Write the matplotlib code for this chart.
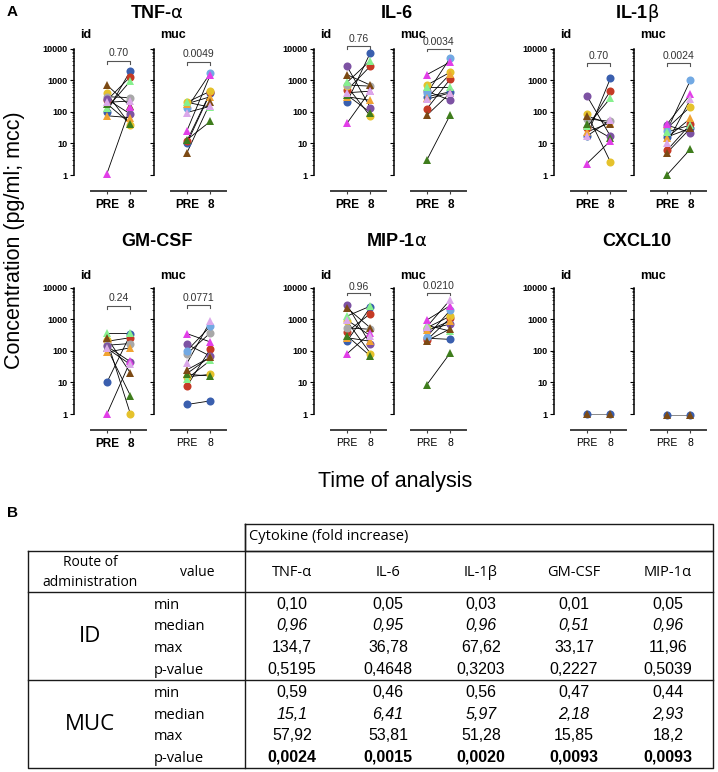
import numpy as np
import matplotlib
matplotlib.use("Agg")
import matplotlib.pyplot as plt
from matplotlib.ticker import NullFormatter, FixedLocator, FixedFormatter

nan = np.nan

# ---------------- data ----------------
subjects = ["blue", "red", "gold", "gray", "purple", "ltblue",
            "orange", "ltgreen", "dkgreen", "brown", "magenta", "lavender"]

tnf_id_pre = [100, 230, 380, 300, 250, nan, 75, 130, 180, 700, 1.1, 200]
tnf_id_post = [2000, 1300, 38, 280, 85, nan, 65, 950, 42, 150, 140, 220]
tnf_muc_pre = [10, 12, 200, nan, nan, 130, 180, 200, 13, 5, 25, 95]
tnf_muc_post = [400, 420, 450, nan, nan, 1700, 300, 140, 50, 200, 1500, 150]

il6_id_pre = [200, 480, 650, 700, 2800, nan, 300, 850, 340, 1500, 43, 400]
il6_id_post = [7500, 2800, 72, 650, 135, nan, 230, 4200, 95, 700, 470, 450]
il6_muc_pre = [300, 125, 700, nan, 450, 380, 270, 600, 3, 78, 1500, 250]
il6_muc_post = [430, 1100, 1800, nan, 230, 5200, 1600, 600, 82, 400, 3800, 400]

il1b_id_pre = [17, 30, 88, 60, 320, nan, 23, 35, 40, 75, 2.3, 17]
il1b_id_post = [1150, 460, 2.6, 50, 17, nan, 45, 270, 15, 40, 12, 55]
il1b_muc_pre = [16, 6, 30, nan, 38, 25, 15, 23, 1, 5, 40, 10]
il1b_muc_post = [30, 40, 145, nan, 22, 1000, 62, 38, 6.6, 30, 360, 250]

gmcsf_id_pre = [10, 200, 220, 150, 140, nan, 90, 370, 125, 260, 1, 120]
gmcsf_id_post = [330, 260, 1, 170, 45, nan, 125, 370, 3.8, 20, 47, 37]
gmcsf_muc_pre = [2, 7.6, 15, 80, 160, 100, 19, 13, 18, 25, 350, 40]
gmcsf_muc_post = [2.6, 115, 18, 370, 68, 600, 65, 50, 16, 63, 190, 870]

mip_id_pre = [200, 400, 870, 530, 2900, nan, 260, 1250, 300, 2300, 80, 950]
mip_id_post = [2400, 1500, 82, 480, 160, nan, 200, 2600, 68, 530, 370, 300]
mip_muc_pre = [250, 220, 540, nan, 470, 280, 440, 640, 8.5, 210, 950, 580]
mip_muc_post = [230, 1100, 1250, nan, 700, 1950, 870, 420, 87, 500, 2700, 4200]

cx_id_pre = [1.0, nan, nan, nan, nan, nan, nan, nan, nan, 1.0, nan, nan]
cx_id_post = [1.0, nan, nan, nan, nan, nan, nan, nan, nan, 1.0, nan, nan]
cx_muc_pre = [0.95, nan, nan, nan, nan, nan, nan, nan, nan, 0.95, nan, nan]
cx_muc_post = [0.95, nan, nan, nan, nan, nan, nan, nan, nan, 0.95, nan, nan]

cytokines = ["TNF-$\\mathrm{\\alpha}$", "IL-6", "IL-1$\\mathrm{\\beta}$", "GM-CSF",
             "MIP-1$\\mathrm{\\alpha}$", "CXCL10"]
pvals_id = ["0.70", "0.76", "0.70", "0.24", "0.96", None]
pvals_muc = ["0.0049", "0.0034", "0.0024", "0.0771", "0.0210", None]
xcats = ["PRE", "8"]
ytick_vals = [1, 10, 100, 1000, 10000]
ytick_labels = ["1", "10", "100", "1000", "10000"]

# table data
table_cols = ["TNF-α", "IL-6", "IL-1β", "GM-CSF", "MIP-1α"]
row_names = ["min", "median", "max", "p-value"]
id_min = ["0,10", "0,05", "0,03", "0,01", "0,05"]
id_median = ["0,96", "0,95", "0,96", "0,51", "0,96"]
id_max = ["134,7", "36,78", "67,62", "33,17", "11,96"]
id_p = ["0,5195", "0,4648", "0,3203", "0,2227", "0,5039"]
muc_min = ["0,59", "0,46", "0,56", "0,47", "0,44"]
muc_median = ["15,1", "6,41", "5,97", "2,18", "2,93"]
muc_max = ["57,92", "53,81", "51,28", "15,85", "18,2"]
muc_p = ["0,0024", "0,0015", "0,0020", "0,0093", "0,0093"]

# ---------------- styles ----------------
colors = {"blue": "#3a5fae", "red": "#c53a25", "gold": "#e5c22c", "gray": "#a8a8a8",
          "purple": "#7d52a3", "ltblue": "#72a9e3", "orange": "#f0a332",
          "ltgreen": "#86f08e", "dkgreen": "#3f7d1d", "brown": "#7c4a14",
          "magenta": "#e23fe8", "lavender": "#dba8ea"}
markers = {"blue": "o", "red": "o", "gold": "o", "gray": "o", "purple": "o",
           "ltblue": "o", "orange": "^", "ltgreen": "^", "dkgreen": "^",
           "brown": "^", "magenta": "^", "lavender": "^"}

panels = [
    (tnf_id_pre, tnf_id_post, tnf_muc_pre, tnf_muc_post),
    (il6_id_pre, il6_id_post, il6_muc_pre, il6_muc_post),
    (il1b_id_pre, il1b_id_post, il1b_muc_pre, il1b_muc_post),
    (gmcsf_id_pre, gmcsf_id_post, gmcsf_muc_pre, gmcsf_muc_post),
    (mip_id_pre, mip_id_post, mip_muc_pre, mip_muc_post),
    (cx_id_pre, cx_id_post, cx_muc_pre, cx_muc_post),
]
# bracket (log10) positions: (id bracket, id text, muc bracket, muc text)
brackets = [(3.6, 3.86, 3.58, 3.84), (4.08, 4.3, 4.0, 4.22), (3.53, 3.76, 3.53, 3.78),
            (3.42, 3.66, 3.44, 3.68), (3.84, 4.02, 3.84, 4.04), None]
bold_x = [[True, True], [True, True], [True, True], [True, False], [False, False], [False, False]]

W, H = 718, 772
fig = plt.figure(figsize=(W / 100, H / 100), dpi=100)
FONT = "Liberation Sans"


def fx(px):
    return px / W


def fy(py):
    return 1 - py / H


unit = 23.5
dec = 31.6
low = 16.3 / dec
high = 4.45
row_one = [175, 414]
title_y = [13, 242]
lab_y = [35, 276]
minor_vals = [m * 10 ** e for e in range(4) for m in range(2, 10)]

for idx, (idpre, idpost, mpre, mpost) in enumerate(panels):
    r, g = divmod(idx, 3)
    for k in range(2):
        pre = idpre if k == 0 else mpre
        post = idpost if k == 0 else mpost
        spine_px = 74 + 240 * g + 80 * k
        xl = (-1.4, 1.85)
        wpx = (xl[1] - xl[0]) * unit
        bottom_px = row_one[r] + 16.3
        hpx = (high + low) * dec
        ax = fig.add_axes([fx(spine_px), fy(bottom_px), wpx / W, hpx / H])
        ax.patch.set_alpha(0)
        ax.set_yscale("log")
        ax.set_xlim(*xl)
        ax.set_ylim(10 ** (-low), 10 ** high)
        for s in ["top", "right"]:
            ax.spines[s].set_visible(False)
        ax.spines["left"].set_bounds(1, 1e4)
        ax.spines["left"].set_linewidth(1.1)
        ax.spines["bottom"].set_bounds(-0.68, 1.68)
        ax.spines["bottom"].set_linewidth(1.4)
        ax.spines["bottom"].set_color("#404040")
        ax.yaxis.set_major_locator(FixedLocator(ytick_vals))
        ax.yaxis.set_minor_locator(FixedLocator(minor_vals))
        ax.yaxis.set_minor_formatter(NullFormatter())
        ax.yaxis.set_major_formatter(FixedFormatter(ytick_labels))
        ax.tick_params(axis="y", which="major", length=3, width=0.8, pad=1.5,
                       labelsize=6.5)
        ax.tick_params(axis="y", which="minor", length=1.5, width=0.5)
        if k == 1:
            ax.tick_params(axis="y", which="both", labelleft=False)
        else:
            for t in ax.get_yticklabels():
                t.set_fontweight("bold")
                t.set_family(FONT)
        ax.set_xticks([0, 1])
        bx = bold_x[idx][k]
        ax.set_xticklabels(xcats, fontsize=8.5 if bx else 7.5,
                           fontweight="bold" if bx else "normal", family=FONT)
        ax.tick_params(axis="x", length=2.5, width=0.8, pad=3, color="#404040")
        lc = "#888888" if idx == 5 else "black"
        for i, s in enumerate(subjects):
            a, b = pre[i], post[i]
            if np.isnan(a) or np.isnan(b):
                continue
            ax.plot([0, 1], [a, b], color=lc, lw=0.6, zorder=2)
        for i, s in enumerate(subjects):
            a, b = pre[i], post[i]
            if np.isnan(a) or np.isnan(b):
                continue
            ms = 5.8 if markers[s] == "o" else 6.0
            ax.plot([0, 1], [a, b], linestyle="none", marker=markers[s], ms=ms,
                    color=colors[s], markeredgewidth=0, zorder=3, clip_on=False)
        if brackets[idx] is not None:
            yb, yt = brackets[idx][2 * k], brackets[idx][2 * k + 1]
            ybv = 10 ** yb
            ax.plot([0, 0, 1, 1], [ybv / 1.22, ybv, ybv, ybv / 1.22], color="#555555",
                    lw=0.8, clip_on=False, zorder=2)
            pv = pvals_id[idx] if k == 0 else pvals_muc[idx]
            ax.text(0.5, 10 ** yt, pv, ha="center", va="center", fontsize=7.5,
                    color="#333333", family=FONT)
        # id / muc labels
        lx = 80 + 240 * g if k == 0 else 160 + 240 * g
        fig.text(fx(lx), fy(lab_y[r]), "id" if k == 0 else "muc", ha="left", va="center",
                 fontsize=9, fontweight="bold", family=FONT)
    fig.text(fx(157 + 240 * g), fy(title_y[r]), cytokines[idx], ha="center", va="center",
             fontsize=13, fontweight="bold", family=FONT)

fig.text(fx(12), fy(12), "A", ha="center", va="center", fontsize=11, fontweight="bold", family=FONT)
fig.text(fx(13), fy(513), "B", ha="center", va="center", fontsize=11, fontweight="bold", family=FONT)
fig.text(fx(15), fy(240), "Concentration (pg/ml; mcc)", rotation=90, ha="center", va="center",
         fontsize=15.5, family=FONT)
fig.text(fx(395), fy(482), "Time of analysis", ha="center", va="center", fontsize=15.5, family=FONT)

# ---------------- table ----------------
at = fig.add_axes([0, 0, 1, 1])
at.set_xlim(0, W)
at.set_ylim(H, 0)
at.axis("off")
lk = dict(color="#1a1a1a", lw=1.0)
at.plot([245, 713, 713, 245, 245], [524, 524, 551, 551, 524], **lk)
at.plot([28, 713, 713, 28, 28], [551, 551, 768, 768, 551], **lk)
at.plot([245, 245], [524, 768], **lk)
at.plot([28, 713], [592, 592], **lk)
at.plot([28, 713], [680, 680], **lk)

TF = "Open Sans"
NF = ["Liberation Sans Narrow", "Liberation Sans"]
at.text(249, 537, "Cytokine (fold increase)", ha="left", va="center", fontsize=10.5, family=TF)
at.text(90, 562, "Route of", ha="center", va="center", fontsize=10, family=TF)
at.text(90, 582, "administration", ha="center", va="center", fontsize=10, family=TF)
at.text(197, 573, "value", ha="center", va="center", fontsize=10, family=TF)
col_x = [292, 388, 481, 574, 668]
for cx, name in zip(col_x, table_cols):
    at.text(cx, 573, name, ha="center", va="center", fontsize=10.5, family=TF)

at.text(90, 636, "ID", ha="center", va="center", fontsize=16, family=TF)
at.text(90, 725, "MUC", ha="center", va="center", fontsize=16, family=TF)

id_rows = [id_min, id_median, id_max, id_p]
muc_rows = [muc_min, muc_median, muc_max, muc_p]
id_y = [604, 625.5, 647, 668.5]
muc_y = [692, 713.7, 735.3, 757]
for block, ys, is_muc in [(id_rows, id_y, False), (muc_rows, muc_y, True)]:
    for ri, (vals, yy) in enumerate(zip(block, ys)):
        at.text(154, yy + 5, row_names[ri], ha="left", va="baseline", fontsize=10.5, family=TF)
        for cx, v in zip(col_x, vals):
            style = "italic" if ri == 1 else "normal"
            weight = "bold" if (is_muc and ri == 3) else "normal"
            at.text(cx, yy + 5, v, ha="center", va="baseline", fontsize=11.5,
                    family=NF, style=style, fontweight=weight)

fig.savefig("out.png", dpi=100)
